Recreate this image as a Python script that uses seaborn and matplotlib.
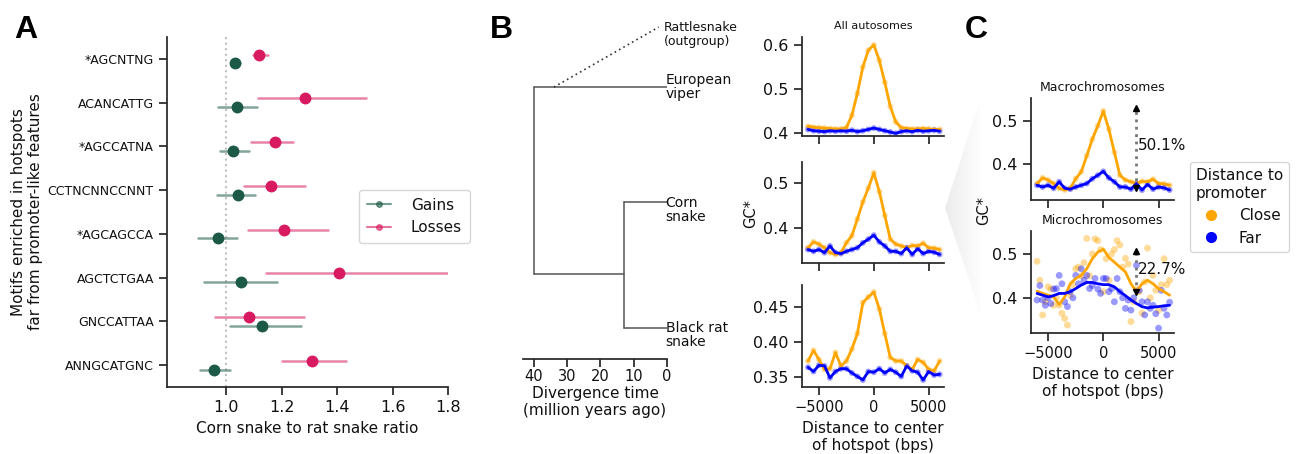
import numpy as np
import pandas as pd
import matplotlib
matplotlib.use("Agg")
import matplotlib.pyplot as plt
import seaborn as sns
from matplotlib.lines import Line2D
from matplotlib.patches import Polygon

sns.set_theme(style="ticks")
plt.rcParams["font.family"] = ["DejaVu Sans"]
plt.rcParams.update({"text.color": "#111111", "axes.labelcolor": "#111111",
                     "xtick.labelcolor": "#111111", "ytick.labelcolor": "#111111"})

# ---------------- Panel A data ----------------
motifs = ["*AGCNTNG", "ACANCATTG", "*AGCCATNA", "CCTNCNNCCNNT",
          "*AGCAGCCA", "AGCTCTGAA", "GNCCATTAA", "ANNGCATGNC"]
gain_ratio = [1.032, 1.038, 1.026, 1.042, 0.971, 1.055, 1.130, 0.956]
gain_lo = [1.017, 0.972, 0.978, 0.966, 0.897, 0.922, 1.014, 0.906]
gain_hi = [1.050, 1.113, 1.082, 1.104, 1.038, 1.185, 1.269, 1.014]
loss_ratio = [1.120, 1.284, 1.176, 1.162, 1.209, 1.408, 1.084, 1.308]
loss_lo = [1.098, 1.116, 1.090, 1.066, 1.080, 1.144, 0.960, 1.203]
loss_hi = [1.152, 1.506, 1.242, 1.283, 1.368, 1.812, 1.282, 1.432]

# ---------------- Panel B tree data ----------------
tip_names = ["Rattlesnake\n(outgroup)", "European\nviper", "Corn\nsnake", "Black rat\nsnake"]
viper_split_mya = 40
colubrid_split_mya = 13
outgroup_from_mya = 34
outgroup_to_mya = 2.5
tree_ticks = [40, 30, 20, 10, 0]

# ---------------- GC* profiles ----------------
bins_bp = [-6000, -5500, -5000, -4500, -4000, -3500, -3000, -2500, -2000, -1500, -1000, -500,
           0, 500, 1000, 1500, 2000, 2500, 3000, 3500, 4000, 4500, 5000, 5500, 6000]

all_close = [0.415, 0.413, 0.412, 0.411, 0.410, 0.409, 0.409, 0.412, 0.440, 0.490, 0.550, 0.588,
             0.600, 0.565, 0.515, 0.460, 0.425, 0.412, 0.410, 0.409, 0.409, 0.410, 0.409, 0.408, 0.408]
all_far = [0.408, 0.405, 0.404, 0.403, 0.405, 0.404, 0.405, 0.404, 0.406, 0.403, 0.405, 0.408,
           0.411, 0.408, 0.405, 0.402, 0.399, 0.403, 0.405, 0.403, 0.406, 0.404, 0.405, 0.406, 0.404]

corn_close = [0.356, 0.369, 0.364, 0.356, 0.345, 0.341, 0.345, 0.367, 0.383, 0.420, 0.458, 0.489,
              0.523, 0.481, 0.428, 0.375, 0.364, 0.360, 0.356, 0.361, 0.360, 0.366, 0.356, 0.355, 0.352]
corn_far = [0.352, 0.348, 0.352, 0.345, 0.360, 0.345, 0.343, 0.348, 0.352, 0.356, 0.367, 0.375,
            0.384, 0.369, 0.360, 0.348, 0.348, 0.343, 0.356, 0.341, 0.354, 0.343, 0.348, 0.346, 0.341]

rat_close = [0.373, 0.388, 0.375, 0.361, 0.362, 0.385, 0.366, 0.373, 0.390, 0.412, 0.456, 0.464,
             0.471, 0.447, 0.412, 0.378, 0.373, 0.373, 0.366, 0.361, 0.375, 0.371, 0.361, 0.359, 0.373]
rat_far = [0.364, 0.358, 0.367, 0.366, 0.349, 0.358, 0.362, 0.362, 0.356, 0.351, 0.346, 0.358,
           0.357, 0.362, 0.356, 0.361, 0.357, 0.351, 0.366, 0.359, 0.357, 0.346, 0.358, 0.353, 0.354]

macro_close = corn_close
macro_far = corn_far

micro_close_line = [0.415, 0.410, 0.406, 0.402, 0.385, 0.402, 0.432, 0.444, 0.451, 0.466, 0.489, 0.504,
                    0.511, 0.492, 0.481, 0.470, 0.459, 0.432, 0.414, 0.432, 0.440, 0.432, 0.421, 0.414, 0.406]
micro_far_line = [0.410, 0.406, 0.402, 0.405, 0.410, 0.410, 0.414, 0.421, 0.429, 0.435, 0.435, 0.432,
                  0.430, 0.430, 0.425, 0.414, 0.405, 0.395, 0.387, 0.380, 0.377, 0.379, 0.380, 0.382, 0.383]

micro_bins_bp = [-6000, -5750, -5500, -5250, -5000, -4750, -4500, -4250, -4000, -3750, -3500, -3250,
                 -3000, -2750, -2500, -2250, -2000, -1750, -1500, -1250, -1000, -750, -500, -250,
                 0, 250, 500, 750, 1000, 1250, 1500, 1750, 2000, 2250, 2500, 2750, 3000, 3250,
                 3500, 3750, 4000, 4250, 4500, 4750, 5000, 5250, 5500, 5750, 6000]
micro_close_pts = [0.483, 0.440, 0.361, 0.391, 0.425, 0.420, 0.383, 0.400, 0.383, 0.365, 0.353, 0.338,
                   0.406, 0.430, 0.466, 0.470, 0.450, 0.480, 0.535, 0.450, 0.500, 0.534, 0.530, 0.510,
                   0.414, 0.489, 0.440, 0.500, 0.510, 0.530, 0.520, 0.470, 0.490, 0.477, 0.346, 0.391,
                   0.420, 0.414, 0.365, 0.436, 0.513, 0.400, 0.451, 0.417, 0.372, 0.430, 0.489, 0.430, 0.440]
micro_far_pts = [0.395, 0.428, 0.395, 0.383, 0.400, 0.387, 0.420, 0.421, 0.451, 0.432, 0.391, 0.380,
                 0.414, 0.400, 0.451, 0.432, 0.466, 0.440, 0.451, 0.421, 0.428, 0.444, 0.420, 0.410,
                 0.444, 0.444, 0.414, 0.421, 0.391, 0.444, 0.414, 0.400, 0.376, 0.395, 0.372, 0.400,
                 0.474, 0.417, 0.391, 0.361, 0.391, 0.376, 0.383, 0.364, 0.331, 0.417, 0.376, 0.361, 0.390]

macro_gap = (3000, 0.345, 0.530, "50.1%")
micro_gap = (3000, 0.414, 0.507, "22.7%")

# ---------------- figure ----------------
W, H = 1296, 454
fig = plt.figure(figsize=(W / 100, H / 100), dpi=100)


def box(l, t, r, b):
    return [l / W, 1 - b / H, (r - l) / W, (b - t) / H]


green = "#1c5a47"
pink = "#d81b60"
pal = {"Close": "orange", "Far": "blue"}

# ---- Panel A ----
axA = fig.add_axes(box(167, 37, 448, 387))
rows = []
for i, m in enumerate(motifs):
    for v in (gain_lo[i], gain_ratio[i], gain_hi[i]):
        rows.append((m, "Gains", v))
    for v in (loss_lo[i], loss_ratio[i], loss_hi[i]):
        rows.append((m, "Losses", v))
dfA = pd.DataFrame(rows, columns=["motif", "group", "ratio"])
axA.axvline(1.0, color="#c0c0c0", ls=":", lw=1.5, zorder=0)
sns.pointplot(data=dfA, x="ratio", y="motif", hue="group", order=motifs,
              hue_order=["Losses", "Gains"], palette={"Gains": green, "Losses": pink},
              estimator="median", errorbar=("pi", 100), dodge=0.2, linestyle="none",
              marker="o", markersize=6.5, err_kws={"linewidth": 1.8, "alpha": 0.55},
              legend=False, orient="h", ax=axA)
axA.set_xlim(0.787, 1.80)
axA.set_xticks([1.0, 1.2, 1.4, 1.6, 1.8])
axA.tick_params(axis="x", labelsize=11.5)
axA.tick_params(axis="y", labelsize=9)
axA.set_xlabel("Corn snake to rat snake ratio", fontsize=11)
axA.set_ylabel("Motifs enriched in hotspots\nfar from promoter-like features", fontsize=11)
axA.yaxis.set_label_coords(-0.44, 0.5)
sns.despine(ax=axA)
fig.legend(handles=[Line2D([], [], color=green, alpha=0.6, marker="o", markersize=4, lw=1.5),
                    Line2D([], [], color=pink, alpha=0.6, marker="o", markersize=4, lw=1.5)],
           labels=["Gains", "Losses"], loc="upper left", borderaxespad=0,
           bbox_to_anchor=(359 / W, 1 - 190 / H), fontsize=11, frameon=True,
           handlelength=1.6, handletextpad=1.3, borderpad=0.5)

# ---- Panel B tree ----
axT = fig.add_axes(box(523, 20, 667, 359))
y_of = {"rattle": 0.979, "viper": 0.802, "corn": 0.463, "rat": 0.091, "node": 0.251}
lc = "#555555"
axT.plot([viper_split_mya, 0], [y_of["viper"]] * 2, color=lc, lw=1.1)
axT.plot([viper_split_mya] * 2, [y_of["viper"], y_of["node"]], color=lc, lw=1.1)
axT.plot([viper_split_mya, colubrid_split_mya], [y_of["node"]] * 2, color=lc, lw=1.1)
axT.plot([colubrid_split_mya] * 2, [y_of["corn"], y_of["rat"]], color=lc, lw=1.1)
axT.plot([colubrid_split_mya, 0], [y_of["corn"]] * 2, color=lc, lw=1.1)
axT.plot([colubrid_split_mya, 0], [y_of["rat"]] * 2, color=lc, lw=1.1)
axT.plot([outgroup_from_mya, outgroup_to_mya], [y_of["viper"], y_of["rattle"]],
         color="#333333", lw=1.2, ls=(0, (1, 2)))
axT.annotate(tip_names[0], (0, 0.956), xytext=(-2, 0), textcoords="offset points",
             ha="left", va="center", fontsize=9, annotation_clip=False, linespacing=1.1)
for key, name, dy in zip(["viper", "corn", "rat"], tip_names[1:], [0, -6, -5]):
    axT.annotate(name, (0, y_of[key]), xytext=(-1, dy), textcoords="offset points",
                 ha="left", va="center", fontsize=10, annotation_clip=False, linespacing=1.0)
axT.set_xlim(43.3, 0)
axT.set_ylim(0, 1)
axT.set_xticks(tree_ticks)
axT.set_yticks([])
axT.tick_params(axis="x", labelsize=10.5, pad=1.5)
for s in ["left", "top", "right"]:
    axT.spines[s].set_visible(False)
axT.set_xlabel("Divergence time\n(million years ago)", fontsize=11, labelpad=1)


# ---- GC* panels ----
def gc_panel(ax, xl, cl, fl, xp, cp, fp, s=18):
    dp = pd.DataFrame({"x": list(xp) * 2, "gc": list(cp) + list(fp),
                       "dist": ["Close"] * len(xp) + ["Far"] * len(xp)})
    sns.scatterplot(data=dp, x="x", y="gc", hue="dist", palette=pal, alpha=0.4, s=s,
                    linewidth=0, legend=False, ax=ax)
    dl = pd.DataFrame({"x": list(xl) * 2, "gc": list(cl) + list(fl),
                       "dist": ["Close"] * len(xl) + ["Far"] * len(xl)})
    sns.lineplot(data=dl, x="x", y="gc", hue="dist", palette=pal, lw=2, legend=False, ax=ax)
    ax.set_xlim(-6550, 6400)
    ax.set_xticks([-5000, 0, 5000])
    ax.set_xlabel("")
    ax.set_ylabel("")
    ax.tick_params(axis="y", labelsize=11.5)
    ax.tick_params(axis="x", labelsize=10.5)
    sns.despine(ax=ax)


axB1 = fig.add_axes(box(802, 37, 944, 136))
gc_panel(axB1, bins_bp, all_close, all_far, bins_bp, all_close, all_far)
axB1.set_ylim(0.393, 0.618)
axB1.set_yticks([0.4, 0.5, 0.6])
axB1.tick_params(labelbottom=False)
axB1.set_title("All autosomes", fontsize=8, pad=6)

axB2 = fig.add_axes(box(802, 162, 944, 263))
gc_panel(axB2, bins_bp, corn_close, corn_far, bins_bp, corn_close, corn_far)
axB2.set_ylim(0.322, 0.547)
axB2.set_yticks([0.4, 0.5])
axB2.tick_params(labelbottom=False)

axB3 = fig.add_axes(box(802, 285, 944, 387))
gc_panel(axB3, bins_bp, rat_close, rat_far, bins_bp, rat_close, rat_far)
axB3.set_ylim(0.336, 0.481)
axB3.set_yticks([0.35, 0.40, 0.45])
axB3.set_xlabel("Distance to center\nof hotspot (bps)", fontsize=11)

fig.text(751 / W, 1 - 213 / H, "GC*", rotation=90, ha="center", va="center", fontsize=10.5)

axC1 = fig.add_axes(box(1031, 98, 1174, 200))
gc_panel(axC1, bins_bp, macro_close, macro_far, bins_bp, macro_close, macro_far)
axC1.set_ylim(0.318, 0.553)
axC1.set_yticks([0.4, 0.5])
axC1.tick_params(labelbottom=False)
axC1.set_title("Macrochromosomes", fontsize=9, pad=5)

axC2 = fig.add_axes(box(1031, 231, 1174, 333))
gc_panel(axC2, bins_bp, micro_close_line, micro_far_line, micro_bins_bp, micro_close_pts,
         micro_far_pts, s=24)
axC2.set_ylim(0.32, 0.552)
axC2.set_yticks([0.4, 0.5])
axC2.set_title("Microchromosomes", fontsize=9, pad=5)
axC2.set_xlabel("Distance to center\nof hotspot (bps)", fontsize=11)

fig.text(984 / W, 1 - 210 / H, "GC*", rotation=90, ha="center", va="center", fontsize=10.5)

for ax, (gx, lo, hi, lab) in [(axC1, macro_gap), (axC2, micro_gap)]:
    ax.plot([gx, gx], [lo, hi], color="#777777", ls=":", lw=2)
    ax.plot([gx], [hi], marker="^", color="black", ms=5)
    ax.plot([gx], [lo], marker="v", color="black", ms=5)
    ax.text(gx + 100, (lo + hi) / 2 + 0.005, lab, ha="left", va="center", fontsize=11)

fig.legend(handles=[Line2D([], [], marker="o", ls="none", color="orange", markersize=7),
                    Line2D([], [], marker="o", ls="none", color="blue", markersize=7)],
           labels=["Close", "Far"], title="Distance to\npromoter", loc="upper left",
           bbox_to_anchor=(1190 / W, 1 - 162 / H), borderaxespad=0, fontsize=11,
           title_fontsize=11, frameon=True, alignment="left", handletextpad=0.8,
           borderpad=0.4)

# ---- zoom wedge ----
axW = fig.add_axes([0, 0, 1, 1], zorder=-5)
axW.set_xlim(0, 1)
axW.set_ylim(0, 1)
axW.set_axis_off()
grad = np.linspace(0.16, 0.02, 64)[None, :]
im = axW.imshow(grad, extent=[945 / W, 980 / W, 0, 1], cmap="Greys", vmin=0, vmax=1,
                aspect="auto", origin="lower")
wedge = Polygon([(945 / W, 1 - 208 / H), (980 / W, 1 - 100 / H), (980 / W, 1 - 312 / H)],
                closed=True, transform=axW.transData, facecolor="none", edgecolor="none")
axW.add_patch(wedge)
im.set_clip_path(wedge)

# ---- panel letters ----
for lx, letter in [(14, "A"), (490, "B"), (965, "C")]:
    fig.text(lx / W, 1 - 38 / H, letter, fontsize=23, fontweight="bold", ha="left",
             va="baseline", family=["Liberation Sans", "DejaVu Sans"], color="black")

fig.savefig("out.png", dpi=100)
